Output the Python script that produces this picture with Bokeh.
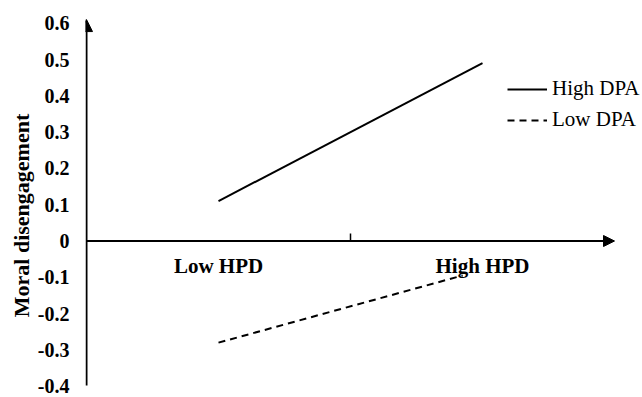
from bokeh.plotting import figure
from bokeh.models import (LinearAxis, FixedTicker, Range1d, Arrow, NormalHead)
from bokeh.embed import file_html
from bokeh.resources import INLINE

# ---- data ----
x_categories = ["Low HPD", "High HPD"]
x_category_pos = [1, 3]
x_mid_tick = [2]
x_axis_end = 4.0

y_ticks = [-0.4, -0.3, -0.2, -0.1, 0, 0.1, 0.2, 0.3, 0.4, 0.5, 0.6]
y_tick_labels = ["-0.4", "-0.3", "-0.2", "-0.1", "0", "0.1", "0.2", "0.3", "0.4", "0.5", "0.6"]
y_axis_bottom = -0.398
y_axis_top = 0.610

high_dpa_x = [1, 3]
high_dpa_y = [0.11, 0.49]
low_dpa_x = [1, 2.85]
low_dpa_y = [-0.28, -0.095]

FONT = "Liberation Serif"
NBSP = "\u00a0"

p = figure(width=642, height=397, output_backend="svg", toolbar_location=None,
           x_axis_type=None, y_axis_type=None,
           x_range=Range1d(-1 / 132, 556 / 132),
           y_range=Range1d(-156.5 / 363, 240.5 / 363),
           min_border_left=85, min_border_right=0, min_border_top=0, min_border_bottom=0)
p.outline_line_color = None
p.background_fill_color = "white"
p.border_fill_color = "white"
p.xgrid.visible = False
p.ygrid.visible = False

# y axis (labels only)
yax = LinearAxis(ticker=FixedTicker(ticks=y_ticks),
                 major_label_overrides={t: l for t, l in zip(y_ticks, y_tick_labels)},
                 axis_label="Moral disengagement" + NBSP * 6)
yax.axis_line_color = None
yax.major_tick_line_color = None
yax.minor_tick_line_color = None
yax.major_tick_in = 0
yax.major_tick_out = 0
yax.major_label_standoff = 16
yax.major_label_text_font = FONT
yax.major_label_text_font_style = "bold"
yax.major_label_text_font_size = "20px"
yax.major_label_text_color = "black"
yax.axis_label_text_font = FONT
yax.axis_label_text_font_style = "bold"
yax.axis_label_text_font_size = "22px"
yax.axis_label_text_color = "black"
yax.axis_label_standoff = 1
p.add_layout(yax, "left")

# x axis: middle tick
xtick = LinearAxis(fixed_location=0, ticker=FixedTicker(ticks=x_mid_tick),
                   major_label_overrides={t: "" for t in x_mid_tick})
xtick.axis_line_color = None
xtick.major_tick_in = 8
xtick.major_tick_out = 0
xtick.major_tick_line_width = 1.5
xtick.major_tick_line_color = "black"
xtick.minor_tick_line_color = None
p.add_layout(xtick, "below")

# x axis: category labels
xlab = LinearAxis(fixed_location=0, ticker=FixedTicker(ticks=x_category_pos),
                  major_label_overrides={t: l for t, l in zip(x_category_pos, x_categories)})
xlab.axis_line_color = None
xlab.major_tick_line_color = None
xlab.minor_tick_line_color = None
xlab.major_tick_in = 0
xlab.major_tick_out = 0
xlab.major_label_standoff = 13
xlab.major_label_text_font = FONT
xlab.major_label_text_font_style = "bold"
xlab.major_label_text_font_size = "21px"
xlab.major_label_text_color = "black"
p.add_layout(xlab, "below")

# axis lines with arrow heads
p.add_layout(Arrow(end=NormalHead(size=12, fill_color="black", line_color="black", line_width=1),
                   x_start=0, y_start=y_axis_bottom, x_end=0, y_end=y_axis_top,
                   line_width=2, line_color="black"))
p.add_layout(Arrow(end=NormalHead(size=11, fill_color="black", line_color="black", line_width=1),
                   x_start=0, y_start=0, x_end=x_axis_end, y_end=0,
                   line_width=2, line_color="black"))

# series
p.line(high_dpa_x, high_dpa_y, line_width=2, line_color="black", legend_label="High DPA")
p.line(low_dpa_x, low_dpa_y, line_width=2, line_color="black", line_dash="7 5",
       legend_label="Low DPA")

lg = p.legend[0]
lg.location = (422, 265)
lg.border_line_color = None
lg.background_fill_alpha = 0
lg.padding = 0
lg.margin = 0
lg.spacing = 6
lg.glyph_width = 40
lg.glyph_height = 24
lg.label_height = 24
lg.label_standoff = 5
lg.label_text_font = FONT
lg.label_text_font_size = "21px"
lg.label_text_color = "black"

open("out.html", "w").write(file_html(p, INLINE))
